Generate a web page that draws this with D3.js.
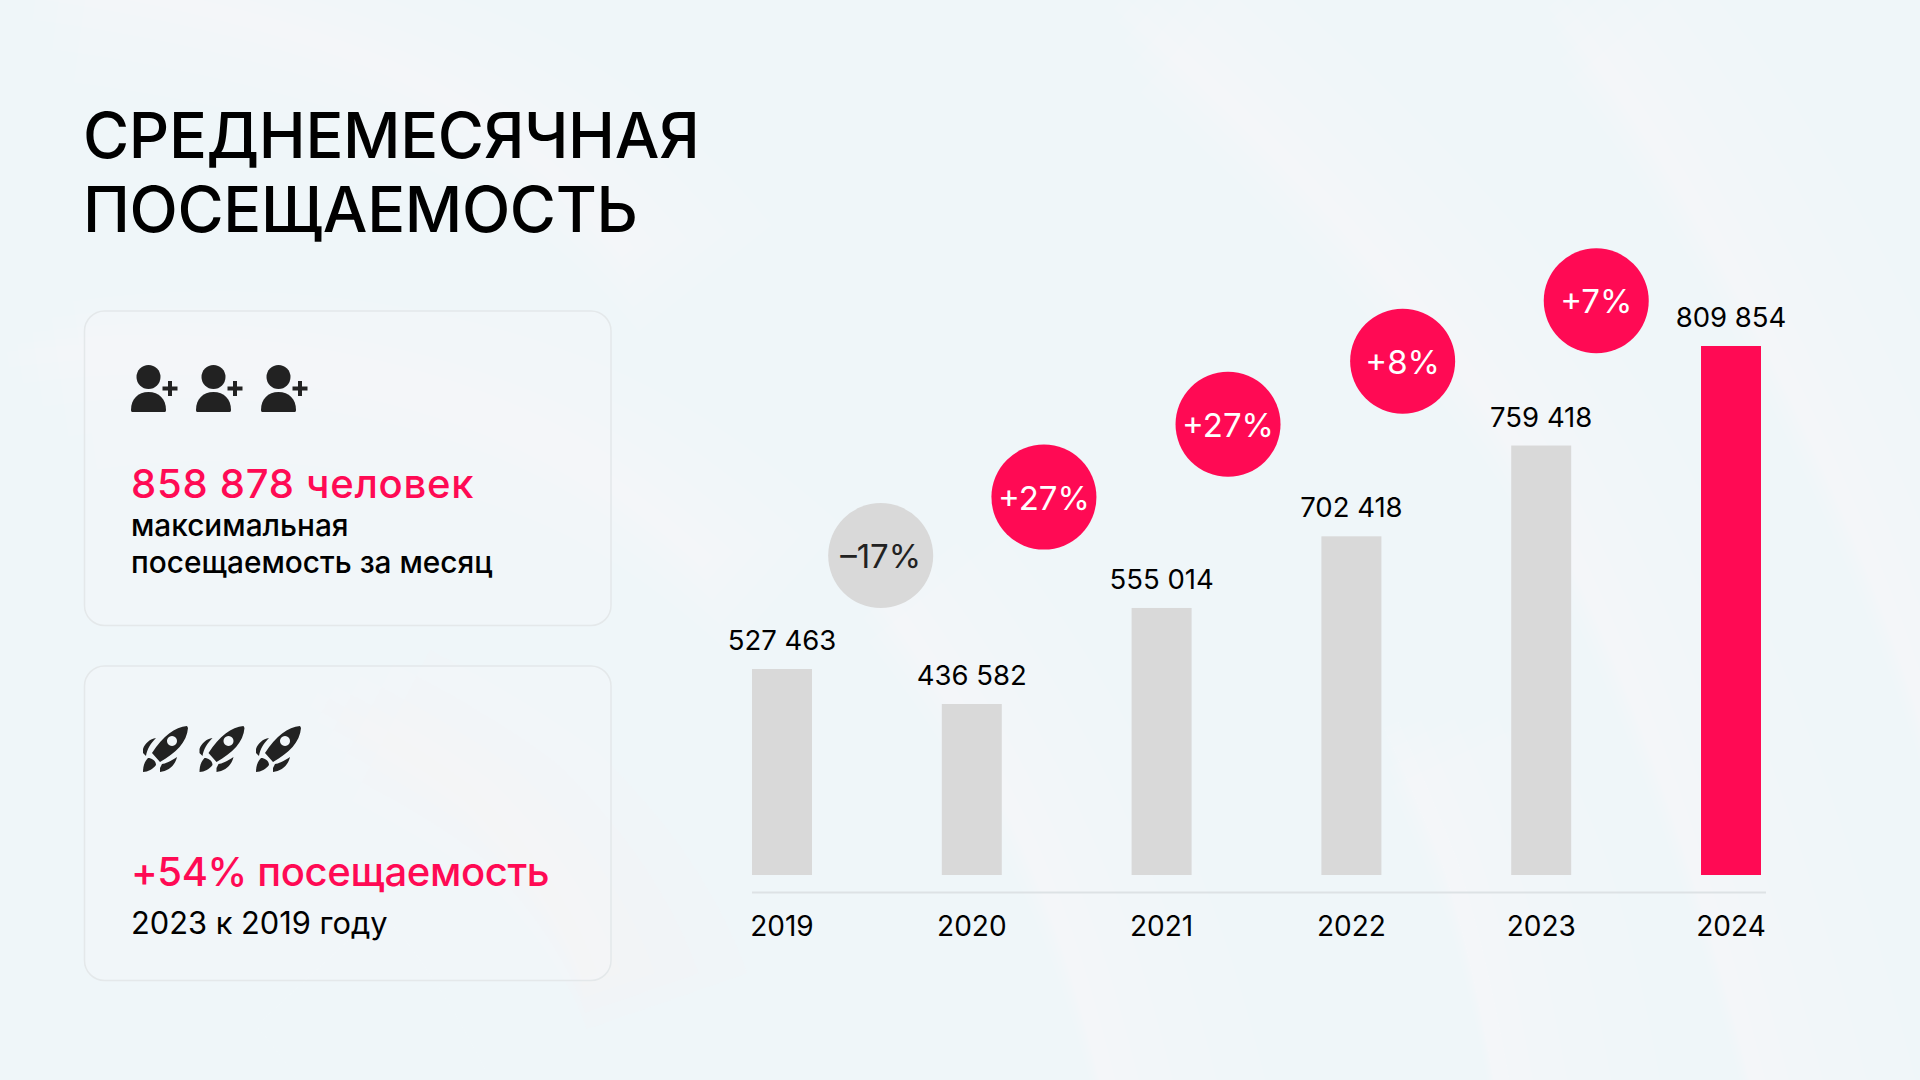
<!DOCTYPE html>
<html>
<head>
<meta charset="utf-8">
<script src="https://cdn.jsdelivr.net/npm/d3@7"></script>
<style>
  body { margin: 0; background: #eff6f9; }
  svg { display: block; }
  text { font-family: Inter, "Noto Sans", sans-serif; fill: #000; }
  .title { font-size: 63px; font-weight: 500; letter-spacing: -0.35px; }
  .big { font-size: 40px; font-weight: 500; fill: #ff0a54; }
  .sub { font-size: 29.8px; font-weight: 500; }
  .value { font-size: 27.5px; font-weight: 400; text-anchor: middle; }
  .badge { font-size: 33px; font-weight: 400; text-anchor: middle; }
  .axis text { font-size: 28px; font-family: Inter, sans-serif; fill: #000; }
</style>
</head>
<body>
<svg width="1920" height="1080"></svg>
<script>
// data
const years = [2019, 2020, 2021, 2022, 2023, 2024]
const visitors = [527463, 436582, 555014, 702418, 759418, 809854] // the printed numbers
// length of each bar as drawn. the bars in the source are not proportional to the printed numbers
const barLengths = [315400, 261800, 408800, 518500, 657500, 809854]
const changes = [-17, 27, 27, 8, 7]
// where each change bubble sits, in chart units
const changeYears = [2019.52, 2020.38, 2021.35, 2022.27, 2023.29]
const changeLevels = [489000, 578500, 690000, 786600, 879000]

const titleLines = ["СРЕДНЕМЕСЯЧНАЯ", "ПОСЕЩАЕМОСТЬ"]
const card1Lines = ["858 878 человек", "максимальная", "посещаемость за месяц"]
const card2Lines = ["+54% посещаемость", "2023 к 2019 году"]

const pink = "#ff0a54"
const grey = "#d9d9d9"
const dark = "#222222"

const svg = d3.select("svg")

// background: soft light bands along the big arcs, stacked strokes so they fade out to one side
const bg = svg.append("g").attr("fill", "none")
bg.append("rect").attr("width", 1920).attr("height", 1080).attr("fill", "#eff6f9")
const arcs = [
  { d: "M1111 0 C1250 120 1400 280 1481 400 C1590 570 1680 800 1750 1080", colour: "#ffffff", opacity: 0.09 },
  { d: "M1546 0 C1640 110 1720 250 1792 400 C1850 520 1890 620 1920 720", colour: "#ffffff", opacity: 0.09 },
  { d: "M0 -30 C150 -10 330 30 444 97 C520 140 580 200 620 250", colour: "#ffffff", opacity: 0.09 },
  { d: "M850 560 C930 660 990 770 1025 850 C1060 930 1080 1000 1100 1080", colour: "#ffffff", opacity: 0.09 },
  { d: "M1383 722 C1410 780 1430 830 1442 860 C1465 930 1480 1000 1494 1080", colour: "#ffffff", opacity: 0.09 },
  { d: "M0 357 C120 340 260 345 400 385 C520 420 600 470 700 560", colour: "#ffffff", opacity: 0.09 },
  { d: "M306 697 C370 730 420 760 459 790 C520 850 560 910 582 973", colour: "#fbf9f4", opacity: 0.09 },
  { d: "M233 940 C270 980 300 1030 325 1080", colour: "#ffffff", opacity: 0.06 },
  { d: "M0 870 C100 860 190 880 250 920", colour: "#ffffff", opacity: 0.06 }
]
const bandWidths = [16, 40, 75, 120, 170]

arcs.forEach(arc => {
  bg.selectAll(null)
    .data(bandWidths)
    .enter()
    .append("path")
    .attr("d", arc.d)
    .attr("transform", w => `translate(${w / 2},${w / 6})`)
    .attr("stroke", arc.colour)
    .attr("stroke-width", w => w)
    .attr("stroke-opacity", arc.opacity)
})

// title
svg.selectAll("text.title")
  .data(titleLines)
  .enter()
  .append("text")
  .attr("class", "title")
  .attr("x", 83)
  .attr("y", (d, i) => 158 + i * 74)
  .text(d => d)

// cards
const cards = [311, 666]
svg.selectAll("rect.card")
  .data(cards)
  .enter()
  .append("rect")
  .attr("class", "card")
  .attr("x", 84.5)
  .attr("y", d => d)
  .attr("width", 526.5)
  .attr("height", 314.5)
  .attr("rx", 20)
  .attr("fill", "#f5f8fa")
  .attr("fill-opacity", 0.4)
  .attr("stroke", "#e4e8ea")
  .attr("stroke-width", 1.5)

// card texts
svg.append("text").attr("class", "big").attr("x", 131).attr("y", 498).style("letter-spacing", "0.75px").text(card1Lines[0])
svg.append("text").attr("class", "sub").attr("x", 131).attr("y", 536).text(card1Lines[1])
svg.append("text").attr("class", "sub").attr("x", 131).attr("y", 573).text(card1Lines[2])
svg.append("text").attr("class", "big").attr("x", 131).attr("y", 886).style("letter-spacing", "-0.36px").text(card2Lines[0])
svg.append("text").attr("class", "sub").attr("x", 131).attr("y", 933.5).style("font-size", "30.8px").style("font-weight", 400).text(card2Lines[1])

// person icons
const people = svg.selectAll("g.person")
  .data([0, 1, 2])
  .enter()
  .append("g")
  .attr("class", "person")
  .attr("transform", d => `translate(${131 + d * 65},365)`)
  .attr("fill", dark)

people.append("circle").attr("cx", 17.5).attr("cy", 12).attr("r", 12)
people.append("path").attr("d", "M0 45 C0 34 7 27 17.5 27 C28 27 35 34 35 45 C35 47 34 47 33 47 L2 47 C1 47 0 47 0 45 Z")
people.append("path").attr("d", "M31.5 21.5 h5.5 v-5.5 h4 v5.5 h5.5 v4 h-5.5 v5.5 h-4 v-5.5 h-5.5 Z")

// rocket icons
const rockets = svg.selectAll("g.rocket")
  .data([0, 1, 2])
  .enter()
  .append("g")
  .attr("class", "rocket")
  .attr("transform", d => `translate(${143 + d * 56.5},726)`)
  .attr("fill", dark)

rockets.append("path")
  .attr("fill-rule", "evenodd")
  .attr("d", "M44 0 C32 1 20 10 9 27 L17 36 C33 27 44 16 45 2 Z M29 10 a5 5 0 1 0 0.01 0 Z")
rockets.append("path").attr("d", "M13 12 C7 13 2 17 0 23 L0 27 L3 30 C4 23 8 17 13 12 Z")
rockets.append("path").attr("d", "M34 31 C28 35 22 38 19 38 L17 42 L17 46 C25 45 32 40 34 31 Z")
rockets.append("path").attr("d", "M5 32 C9 32 13 35 13 39 C10 43 5 46 0 46 C0 41 1 36 5 32 Z")

// scales
const xScale = d3.scaleBand()
  .domain(years)
  .range([752, 1761])
  .paddingInner(0.684)
  .paddingOuter(0)

const yScale = d3.scaleLinear()
  .domain([0, 809854])
  .range([875, 346])

// year position of the bubbles, between the band centres
const yearScale = d3.scaleLinear()
  .domain([2019, 2024])
  .range([xScale(2019) + xScale.bandwidth() / 2, xScale(2024) + xScale.bandwidth() / 2])

const numberFormat = d3.formatLocale({ thousands: " ", grouping: [3], decimal: ",", currency: ["", ""] }).format(",d")

// bars
svg.selectAll("rect.bar")
  .data(years)
  .enter()
  .append("rect")
  .attr("class", "bar")
  .attr("x", d => xScale(d))
  .attr("width", xScale.bandwidth())
  .attr("y", (d, i) => yScale(barLengths[i]))
  .attr("height", (d, i) => yScale(0) - yScale(barLengths[i]))
  .attr("fill", (d, i) => i === years.length - 1 ? pink : grey)

// numbers on top of the bars
svg.selectAll("text.value")
  .data(years)
  .enter()
  .append("text")
  .attr("class", "value")
  .attr("x", d => xScale(d) + xScale.bandwidth() / 2)
  .attr("y", (d, i) => yScale(barLengths[i]) - 19)
  .text((d, i) => numberFormat(visitors[i]))

// axis, the line runs a little past the last bar
const axis = svg.append("g")
  .attr("class", "axis")
  .attr("transform", "translate(0,892.5)")
  .call(d3.axisBottom(xScale).tickSize(0).tickPadding(23.5).tickFormat(d => d))

axis.select(".domain").remove()
axis.append("line")
  .attr("x1", xScale.range()[0])
  .attr("x2", xScale.range()[1] + 5)
  .attr("stroke", "#dde2e5")
  .attr("stroke-width", 2)

// change bubbles
const bubbles = svg.selectAll("g.bubble")
  .data(changes)
  .enter()
  .append("g")
  .attr("class", "bubble")
  .attr("transform", (d, i) => `translate(${yearScale(changeYears[i])},${yScale(changeLevels[i])})`)

bubbles.append("circle")
  .attr("r", 52.5)
  .attr("fill", d => d < 0 ? grey : pink)

bubbles.append("text")
  .attr("class", "badge")
  .attr("y", 12.5)
  .style("fill", d => d < 0 ? dark : "#fff")
  .text(d => (d < 0 ? "–" : "+") + Math.abs(d) + "%")
</script>
</body>
</html>
